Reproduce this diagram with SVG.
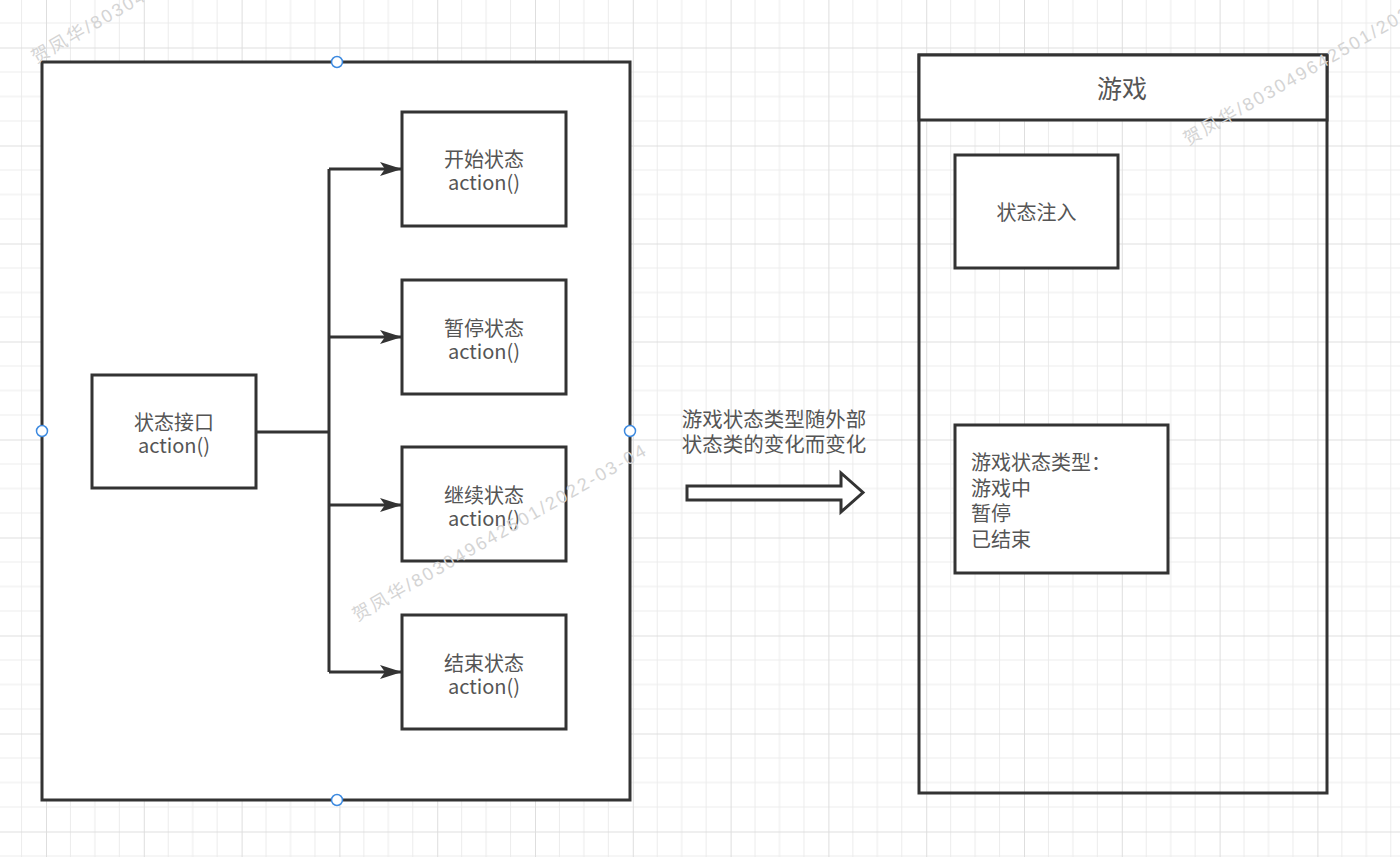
<svg xmlns="http://www.w3.org/2000/svg" width="1400" height="857" viewBox="0 0 1400 857">
  <defs>
    <pattern id="grid" patternUnits="userSpaceOnUse" x="46" y="47.5" width="97.8" height="98">
      <path d="M24.45,0V98M48.9,0V98M73.35,0V98M0,24.5H97.8M0,49H97.8M0,73.5H97.8" stroke="#ececec" stroke-width="1" fill="none"/>
      <path d="M0.5,0V98M0,0.5H97.8" stroke="#dedede" stroke-width="1" fill="none"/>
    </pattern>
    <marker id="arr" markerUnits="userSpaceOnUse" markerWidth="24" markerHeight="16" refX="22" refY="7" orient="auto">
      <path d="M22,7 L0,0 L5,7 L0,14 Z" fill="#333"/>
    </marker>
    <style>
      .box{fill:#fff;stroke:#333;stroke-width:3}
      .t{font-family:"Noto Sans CJK SC","Microsoft YaHei",sans-serif;font-size:20px;fill:#555}
      .c{text-anchor:middle}
      .conn{fill:none;stroke:#333;stroke-width:3}
      .h{fill:#fff;stroke:#3d8ae0;stroke-width:1.5}
      .wm{font-family:"Liberation Sans","Noto Sans CJK SC",sans-serif;font-size:18px;fill:#d4d4d4}
    </style>
  </defs>
  <rect width="1400" height="857" fill="#fff"/>
  <rect width="1400" height="857" fill="url(#grid)"/>

  <g id="left-container">
    <rect class="box" x="42" y="62" width="588" height="738"/>
  </g>

  <g id="interface">
    <rect class="box" x="92" y="375" width="164" height="113"/>
    <text class="t c" x="174" y="429.5">状态接口</text>
    <text class="t c" x="174" y="452.5">action()</text>
  </g>
  <g id="start">
    <rect class="box" x="402" y="112" width="164" height="114"/>
    <text class="t c" x="484" y="167">开始状态</text>
    <text class="t c" x="484" y="190">action()</text>
  </g>
  <g id="pause">
    <rect class="box" x="402" y="280" width="164" height="114"/>
    <text class="t c" x="484" y="335.5">暂停状态</text>
    <text class="t c" x="484" y="358.5">action()</text>
  </g>
  <g id="continue">
    <rect class="box" x="402" y="447" width="164" height="114"/>
    <text class="t c" x="484" y="502.5">继续状态</text>
    <text class="t c" x="484" y="525.5">action()</text>
  </g>
  <g id="end">
    <rect class="box" x="402" y="615" width="164" height="114"/>
    <text class="t c" x="484" y="670.5">结束状态</text>
    <text class="t c" x="484" y="693.5">action()</text>
  </g>

  <g id="connectors">
    <path class="conn" d="M256,432 H329"/>
    <path class="conn" d="M329,169 V672"/>
    <path class="conn" d="M329,169 H402" marker-end="url(#arr)"/>
    <path class="conn" d="M329,337 H402" marker-end="url(#arr)"/>
    <path class="conn" d="M329,505 H402" marker-end="url(#arr)"/>
    <path class="conn" d="M329,672 H402" marker-end="url(#arr)"/>
  </g>

  <g id="handles">
    <circle class="h" cx="337" cy="62" r="5.5"/>
    <circle class="h" cx="42" cy="431" r="5.5"/>
    <circle class="h" cx="630" cy="431" r="5.5"/>
    <circle class="h" cx="337" cy="800" r="5.5"/>
  </g>

  <g id="transition">
    <text class="t c" x="774" y="427" style="font-size:20.5px">游戏状态类型随外部</text>
    <text class="t c" x="774" y="452" style="font-size:20.5px">状态类的变化而变化</text>
    <path d="M687,486 H841 V473 L863,492.5 L841,512 V500 H687 Z" fill="#fff" stroke="#333" stroke-width="3" stroke-linejoin="miter"/>
  </g>

  <g id="game">
    <rect x="919" y="55" width="408" height="738" fill="none" stroke="#333" stroke-width="3"/>
    <rect x="919" y="55" width="408" height="65" fill="#fff" stroke="#333" stroke-width="3"/>
    <text class="t c" x="1122" y="98" style="font-size:25px">游戏</text>
  </g>
  <g id="inject">
    <rect class="box" x="955" y="155" width="163" height="113"/>
    <text class="t c" x="1036.5" y="220">状态注入</text>
  </g>
  <g id="types">
    <rect class="box" x="955" y="425" width="213" height="148"/>
    <text class="t" x="971" y="470">游戏状态类型：</text>
    <text class="t" x="971" y="495.5">游戏中</text>
    <text class="t" x="971" y="521">暂停</text>
    <text class="t" x="971" y="546.5">已结束</text>
  </g>

  <g id="watermarks">
    <text class="wm" transform="translate(36,64) rotate(-30)" textLength="335" lengthAdjust="spacing">贺凤华/803049642501/2022-03-04</text>
    <text class="wm" transform="translate(357,622) rotate(-30)" textLength="335" lengthAdjust="spacing">贺凤华/803049642501/2022-03-04</text>
    <text class="wm" transform="translate(1188,146) rotate(-30)" textLength="335" lengthAdjust="spacing">贺凤华/803049642501/2022-03-04</text>
  </g>
</svg>
